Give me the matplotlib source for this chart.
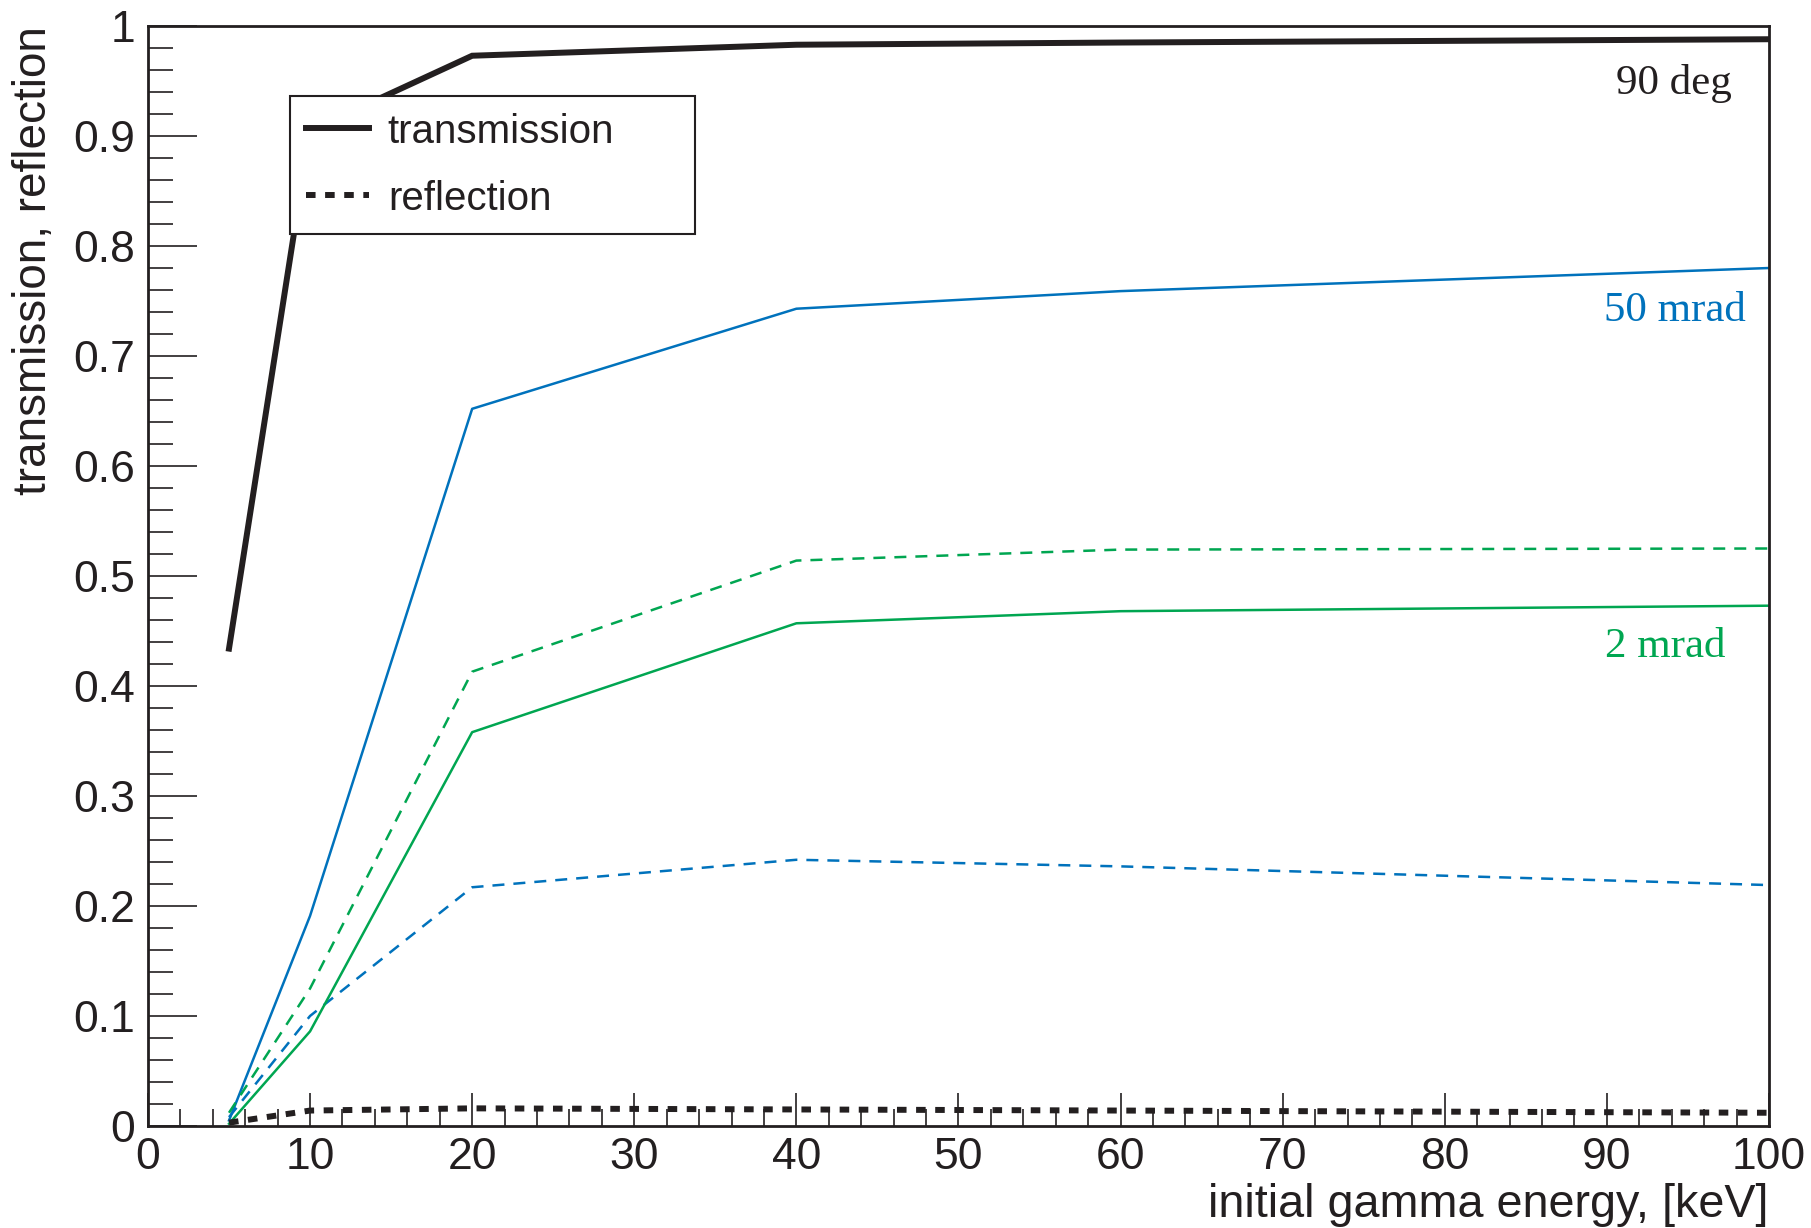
import matplotlib.pyplot as plt
from matplotlib.lines import Line2D
from matplotlib.ticker import MultipleLocator

# initial gamma energy [keV]
energy = [5, 10, 20, 40, 60, 100]

# 90 deg
trans_90deg = [0.434, 0.905, 0.973, 0.983, 0.985, 0.988]
refl_90deg = [0.003, 0.014, 0.016, 0.015, 0.014, 0.012]
# 50 mrad
trans_50mrad = [0.005, 0.191, 0.652, 0.743, 0.759, 0.780]
refl_50mrad = [0.008, 0.100, 0.217, 0.242, 0.236, 0.219]
# 2 mrad
trans_2mrad = [0.002, 0.086, 0.358, 0.457, 0.468, 0.473]
refl_2mrad = [0.012, 0.125, 0.413, 0.514, 0.524, 0.525]

curve_labels = ["90 deg", "50 mrad", "2 mrad"]
label_pos = [(97.7, 0.948), (98.6, 0.741), (97.3, 0.436)]

black = "#231f20"
blue = "#0072bc"
green = "#00a651"

plt.rcParams["font.family"] = ["Liberation Sans", "DejaVu Sans"]

fig = plt.figure(figsize=(18.11, 12.28), dpi=100)
ax = fig.add_axes([0.0817, 0.0831, 0.8951, 0.8957])

thin = 1.8
thick = 4.3
ax.plot(energy, trans_50mrad, color=blue, lw=thin)
ax.plot(energy, refl_50mrad, color=blue, lw=thin, dashes=(4.8, 3.6))
ax.plot(energy, trans_2mrad, color=green, lw=thin)
ax.plot(energy, refl_2mrad, color=green, lw=thin, dashes=(4.8, 3.6))
ax.plot(energy, trans_90deg, color=black, lw=thick, solid_joinstyle="miter")
ax.plot(energy, refl_90deg, color=black, lw=thick, dashes=(1.6, 1.6))

for txt, (x, y), c in zip(curve_labels, label_pos, [black, blue, green]):
    ax.text(x, y, txt, color=c, ha="right", va="center",
            family=["Liberation Serif", "DejaVu Serif"], fontsize=31)

ax.set_xlim(0, 100)
ax.set_ylim(0, 1)
ax.xaxis.set_major_locator(MultipleLocator(10))
ax.xaxis.set_minor_locator(MultipleLocator(2))
ax.yaxis.set_major_locator(MultipleLocator(0.1))
ax.yaxis.set_minor_locator(MultipleLocator(0.02))
ax.set_yticks([i / 10 for i in range(11)],
              ["0", "0.1", "0.2", "0.3", "0.4", "0.5", "0.6", "0.7", "0.8", "0.9", "1"])

ax.tick_params(axis="both", which="both", direction="in", colors=black,
               top=False, right=False, labelsize=32, width=1.2)
ax.tick_params(axis="x", which="major", length=24, pad=8)
ax.tick_params(axis="x", which="minor", length=12)
ax.tick_params(axis="y", which="major", length=35, pad=9)
ax.tick_params(axis="y", which="minor", length=18)
for sp in ax.spines.values():
    sp.set_linewidth(2.0)
    sp.set_color(black)

ax.set_xlabel("initial gamma energy, [keV]", fontsize=33.7, color=black, loc="right")
ax.xaxis.set_label_coords(1.0, -0.052)
ax.set_ylabel("transmission, reflection", fontsize=33, color=black, loc="top")
ax.yaxis.set_label_coords(-0.057, 1.0)

handles = [
    Line2D([], [], color=black, lw=thick),
    Line2D([], [], color=black, lw=thick, dashes=(1.6, 1.6)),
]
leg = ax.legend(handles, ["transmission", "reflection"], loc="upper left",
                bbox_to_anchor=(0.0876, 0.8136, 0.2498, 0.1224), mode="expand",
                borderaxespad=0, fontsize=29, handlelength=1.55, handletextpad=0.48,
                labelspacing=0.72, borderpad=0.4, fancybox=False, framealpha=1)
leg.get_frame().set_edgecolor(black)
leg.get_frame().set_linewidth(1.5)
for t in leg.get_texts():
    t.set_color(black)

fig.savefig("out.png", dpi=100)
